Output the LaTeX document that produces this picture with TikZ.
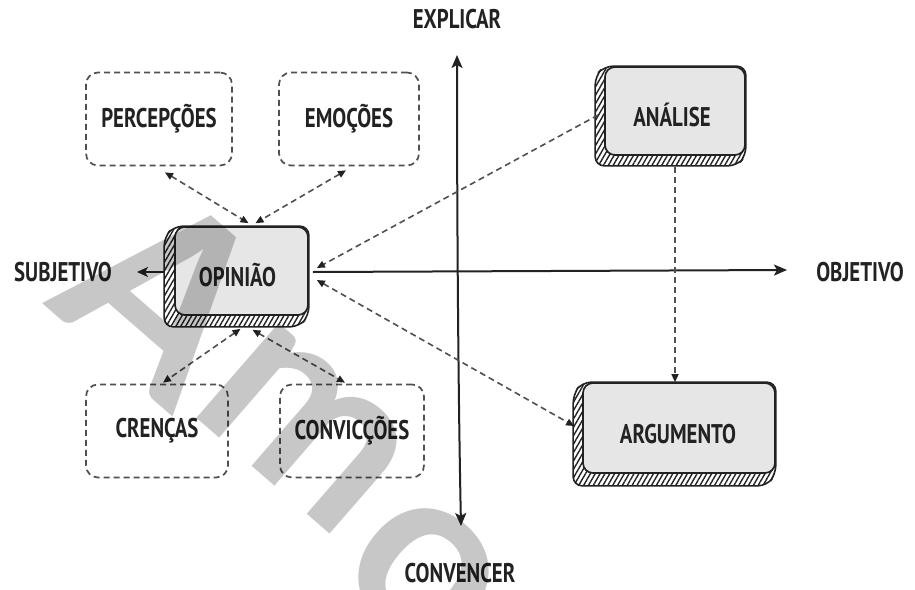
\documentclass[tikz,border=0pt]{standalone}
\usepackage{fontspec}
\newfontfamily\hand[FakeStretch=0.77]{PT Sans}
\newfontfamily\wmfont{Lato}
\usetikzlibrary{arrows.meta,patterns.meta,calc,backgrounds}
\definecolor{ink}{HTML}{222222}
\definecolor{dashc}{HTML}{505050}
\definecolor{facec}{HTML}{E6E6E6}
\tikzset{
  lbl/.style={font=\hand\bfseries\fontsize{27}{27}\selectfont, text=ink, inner sep=0pt},
  dbox/.style={lbl, draw=dashc, line width=1.7pt, dash pattern=on 6pt off 4pt,
    rounded corners=12pt, minimum width=#1, minimum height=93pt},
  face/.style={lbl, draw=ink, fill=facec, line width=1.7pt, rounded corners=10pt,
    text height=31pt, text depth=0pt},
  hatchside/.style={draw=ink, line width=1.6pt, rounded corners=9pt,
    pattern={Lines[angle=60,distance=4.2pt,line width=1.4pt]}, pattern color=ink},
  tip/.style={Triangle[length=8pt,width=7pt,color=ink]},
  link/.style={draw=dashc, line width=1.6pt, dash pattern=on 6pt off 4pt,
    {Triangle[length=8pt,width=7pt,color=ink]}-{Triangle[length=8pt,width=7pt,color=ink]}},
  linkone/.style={draw=dashc, line width=1.6pt, dash pattern=on 6pt off 4pt,
    -{Triangle[length=8pt,width=7pt,color=ink]}},
  axis/.style={draw=ink, line width=2pt, -{Stealth[length=13pt,width=11pt,inset=3pt]}},
  wmark/.style={font=\wmfont\bfseries\fontsize{245}{245}\selectfont, text=black,
    text opacity=0.22, inner sep=0pt, anchor=center, rotate=-41}
}
\begin{document}
\begin{tikzpicture}[x=1pt,y=-1pt]
\useasboundingbox (0,0) rectangle (915,589);

% dashed boxes
\node[dbox=146pt] (p) at (159,119) {PERCEPÇÕES};
\node[dbox=140pt] (e) at (349,119) {EMOÇÕES};
\node[dbox=142pt] (c) at (157,431) {CRENÇAS};
\node[dbox=144pt] (v) at (352,431) {CONVICÇÕES};

% solid boxes
\node[face, minimum width=133pt, minimum height=88pt] (o) at (241.5,271) {OPINIÃO\hspace*{8pt}};
\node[face, minimum width=140pt, minimum height=88pt] (a) at (675,111) {ANÁLISE\hspace*{6pt}};
\node[face, minimum width=192pt, minimum height=90pt] (g) at (679,428) {ARGUMENTO\hspace*{2pt}};

\begin{pgfonlayer}{background}
\fill[white] (0,0) rectangle (915,589);
\path[hatchside] (o.north west) -- ($(o.north west)+(-10,11)$) -- ($(o.south west)+(-10,11)$)
  -- ($(o.south east)+(-10,11)$) -- (o.south east) -- (o.north east) -- cycle;
\path[hatchside] (a.north west) -- ($(a.north west)+(-9,10)$) -- ($(a.south west)+(-9,10)$)
  -- ($(a.south east)+(-9,10)$) -- (a.south east) -- (a.north east) -- cycle;
\path[hatchside] (g.north west) -- ($(g.north west)+(-9,12)$) -- ($(g.south west)+(-9,12)$)
  -- ($(g.south east)+(-9,12)$) -- (g.south east) -- (g.north east) -- cycle;
\end{pgfonlayer}

% axis labels
\node[lbl] (ex) at (457,19) {EXPLICAR};
\node[lbl] (cv) at (460,573) {CONVENCER};
\node[lbl] (sb) at (63,272) {SUBJETIVO};
\node[lbl] (ob) at (860,272) {OBJETIVO};

\coordinate (ytop) at (457,55);
\coordinate (ybot) at (461,526);
\coordinate (xend) at (787,270);
\coordinate (xbeg) at (137,272);

% axes
\draw[axis, {Stealth[length=13pt,width=11pt,inset=3pt]}-{Stealth[length=13pt,width=11pt,inset=3pt]}]
  (ybot) .. controls (458,380) and (457,200) .. (ytop);
\draw[axis] ($(o.east)+(4,1)$) -- (xend);
\draw[axis, -{Stealth[length=11pt,width=10pt,inset=3pt]}] ($(o.west)+(-9,1)$) -- (xbeg);

% dashed connectors
\draw[link] ($(p.south)+(6,6)$) -- ($(o.north)+(7,-3)$);
\draw[link] ($(e.south)+(-3,4)$) -- ($(o.north)+(14,-3)$);
\draw[linkone] ($(a.west)+(-6,4)$) -- ($(o.east)+(8,-3)$);
\draw[link] ($(o.east)+(8,9)$) -- ($(g.west)+(-8,-2)$);
\draw[linkone] ($(a.south)+(0,11)$) -- ($(g.north)+(-4,0)$);
\draw[link] ($(o.south)+(-1,13)$) -- ($(c.north)+(6,-1)$);
\draw[link] ($(o.south)+(11,14)$) -- ($(v.north)+(-7,-1)$);

% watermark
\begin{scope}
\clip (0,0) rectangle (915,589);
\node[wmark] (wa) at (166,293) {A};
\node[wmark] (wmm) at (305,428) {m};
\node[wmark] (wo) at (424,574) {o};
\end{scope}
\end{tikzpicture}
\end{document}
